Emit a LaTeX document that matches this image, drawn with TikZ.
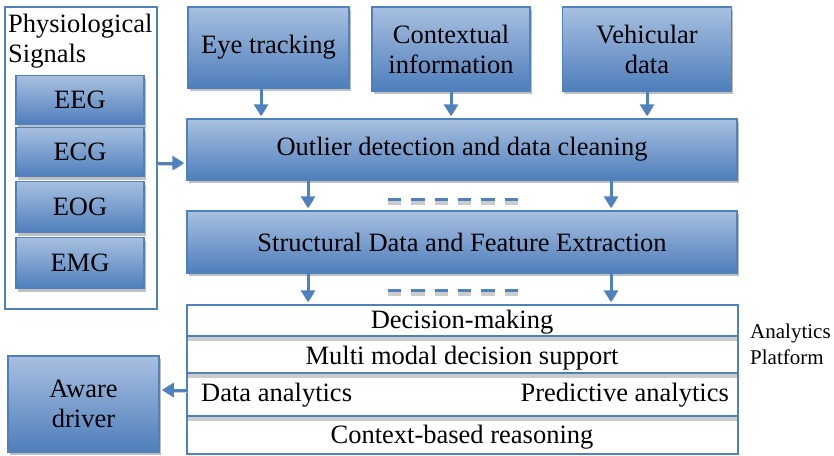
\documentclass[tikz,border=0pt]{standalone}
\usepackage{fontspec}
\setmainfont{Liberation Serif}
\usetikzlibrary{arrows.meta, shadows}
\definecolor{boxblue}{RGB}{79,129,189}
\definecolor{boxtop}{RGB}{168,192,224}
\definecolor{boxbot}{RGB}{78,126,188}

\begin{document}
\begin{tikzpicture}[x=1pt, y=-1pt,
		>={Triangle[width=14pt,length=12pt]},   %Pfeilspitzen
		font=\fontsize{26.5}{30}\selectfont,
		blau/.style={draw=boxblue, line width=1.5pt, top color=boxtop, bottom color=boxbot, align=center, inner sep=0pt,
			drop shadow={shadow xshift=1.5pt, shadow yshift=-3pt, fill=black!25, opacity=1}},
		rahmen/.style={draw=boxblue, line width=1.5pt, fill=white, inner sep=0pt},
		pfeil/.style={->, draw=boxblue, line width=3pt, shorten >=2pt,
			preaction={draw=black!20, transform canvas={xshift=1pt, yshift=-2pt}}},
		strich/.style={draw=boxblue, line width=3pt, dash pattern=on 13.3pt off 10pt,
			preaction={draw=black!20, line width=4pt, dash pattern=on 13.3pt off 10pt, transform canvas={yshift=-3.5pt}}},
		klein/.style={font=\fontsize{21}{26}\selectfont, align=left, inner sep=0pt}]
		\useasboundingbox (0,0) rectangle (834,455);
		%Physiologische Signale
		\node[rahmen, minimum width=152pt, minimum height=302pt] (phys) at (81,158) {};
		\node[anchor=north west, align=left, inner sep=0pt] (physlabel) at (8,14) {Physiological\\Signals};
		\node[blau, minimum width=128pt, minimum height=49pt] (eeg) at (80,100) {EEG};
		\node[blau, minimum width=128pt, minimum height=49pt] (ecg) at (80,152) {ECG};
		\node[blau, minimum width=128pt, minimum height=51pt] (eog) at (80,207) {EOG};
		\node[blau, minimum width=128pt, minimum height=51pt] (emg) at (80,263) {EMG};
		%Eingaben oben
		\node[blau, minimum width=161pt, minimum height=81pt] (eye) at (268.5,47.5) {Eye tracking};
		\node[blau, minimum width=158pt, minimum height=84pt] (context) at (451,49) {Contextual\\information};
		\node[blau, minimum width=169pt, minimum height=84pt] (vehicle) at (647,49) {Vehicular\\data};
		%Verarbeitung
		\node[blau, minimum width=550pt, minimum height=61pt] (outlier) at (462,149.5) {Outlier detection and data cleaning};
		\node[blau, minimum width=550pt, minimum height=62pt] (feature) at (462,242) {Structural Data and Feature Extraction};
		%Analyseplattform
		\node[rahmen, minimum width=551pt, minimum height=149pt] (platform) at (462.5,379.5) {};
		\foreach \y in {336,373,416} {
			\fill[black!20] (188,\y+1) rectangle (737,\y+5);
			\draw[boxblue, line width=1.5pt] (187,\y) -- (738,\y);
		}
		\node[anchor=base, inner sep=0pt] (decision) at (462,328) {Decision-making};
		\node[anchor=base, inner sep=0pt] (support) at (462,364) {Multi modal decision support};
		\node[anchor=base west, inner sep=0pt] (analytics) at (201,401) {Data analytics};
		\node[anchor=base east, inner sep=0pt] (predictive) at (729,401) {Predictive analytics};
		\node[anchor=base, inner sep=0pt] (reasoning) at (462,443) {Context-based reasoning};
		\node[klein, anchor=north west] (platformlabel) at (750,324) {Analytics\\Platform};
		%Fahrer
		\node[blau, minimum width=151pt, minimum height=96pt] (aware) at (83.5,404) {Aware\\driver};
		%Pfeile
		\coordinate (xeye) at (261,0);
		\coordinate (xl) at (308,0);
		\coordinate (xr) at (611,0);
		\coordinate (yin) at (0,163);
		\coordinate (yout) at (0,390);
		\draw[pfeil] (eye.south -| xeye) -- (outlier.north -| xeye);
		\draw[pfeil] (context.south) -- (outlier.north -| context.south);
		\draw[pfeil] (vehicle.south) -- (outlier.north -| vehicle.south);
		\foreach \s in {xl,xr} {
			\draw[pfeil] (outlier.south -| \s) -- (feature.north -| \s);
			\draw[pfeil] (feature.south -| \s) -- (platform.north -| \s);
		}
		\draw[pfeil] (phys.east |- yin) -- (outlier.west |- yin);
		\draw[pfeil] (platform.west |- yout) -- (aware.east |- yout);
		%Striche
		\draw[strich] (388,199) -- (518,199);
		\draw[strich] (388,290) -- (518,290);
	\end{tikzpicture}
\end{document}
